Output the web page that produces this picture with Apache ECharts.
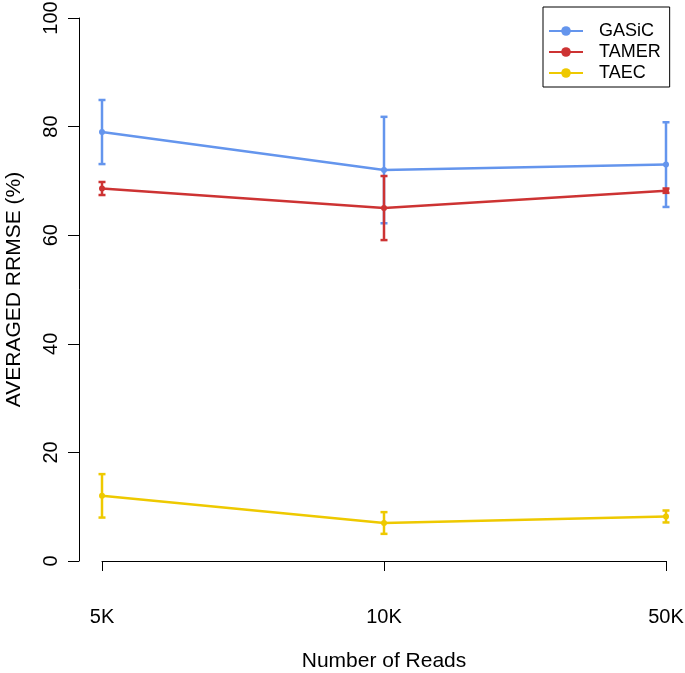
<!DOCTYPE html>
<html>
<head>
<meta charset="utf-8">
<script src="https://cdn.jsdelivr.net/npm/echarts@6/dist/echarts.min.js"></script>
<style>html,body{margin:0;padding:0;background:#fff}#c{width:685px;height:673px}</style>
</head>
<body>
<div id="c"></div>
<script>
var categories = ['5K', '10K', '50K'];
var gasicMean = [79.0, 72.0, 73.0];
var gasicErr = [5.9, 9.8, 7.8];
var tamerMean = [68.6, 65.0, 68.2];
var tamerErr = [1.2, 5.9, 0.4];
var taecMean = [12.0, 7.0, 8.2];
var taecErr = [4.0, 2.0, 1.1];
var yTicks = [0, 20, 40, 60, 80, 100];

var FONT = 'Liberation Sans, Arial, sans-serif';
var colors = {GASiC: '#6495ED', TAMER: '#CD3333', TAEC: '#EEC900'};

function errData(mean, err) {
  return mean.map(function (m, i) { return [i, m - err[i], m + err[i]]; });
}
function errSeries(name, mean, err, z) {
  var col = colors[name];
  return {
    type: 'custom',
    name: name + ' err',
    z: z,
    silent: true,
    data: errData(mean, err),
    renderItem: function (params, api) {
      var x = api.value(0);
      var lo = api.coord([x, api.value(1)]);
      var hi = api.coord([x, api.value(2)]);
      var hw = 3.5;
      var st = {stroke: col, lineWidth: 2.5};
      return {
        type: 'group',
        children: [
          {type: 'line', shape: {x1: lo[0], y1: lo[1], x2: hi[0], y2: hi[1]}, style: st},
          {type: 'line', shape: {x1: lo[0] - hw, y1: lo[1], x2: lo[0] + hw, y2: lo[1]}, style: st},
          {type: 'line', shape: {x1: hi[0] - hw, y1: hi[1], x2: hi[0] + hw, y2: hi[1]}, style: st}
        ]
      };
    }
  };
}
function lineSeries(name, mean, z) {
  return {
    type: 'line',
    name: name,
    z: z,
    data: mean,
    symbol: 'circle',
    symbolSize: 6,
    color: colors[name],
    lineStyle: {width: 2.5, color: colors[name]},
    itemStyle: {color: colors[name]}
  };
}

var chart = echarts.init(document.getElementById('c'));
chart.setOption({
  animation: false,
  backgroundColor: '#fff',
  grid: {left: 102, right: 19, top: 18, bottom: 112, containLabel: false, outerBoundsMode: 'none'},
  legend: {
    data: ['GASiC', 'TAMER', 'TAEC'],
    orient: 'vertical',
    left: 543,
    top: 7,
    padding: [15, 9, 5, 5],
    itemWidth: 34,
    itemHeight: 12,
    itemGap: 3,
    borderColor: '#000',
    borderWidth: 1,
    textStyle: {fontFamily: FONT, fontSize: 18, color: '#000', padding: [0, 0, 0, 11]}
  },
  xAxis: {
    type: 'category',
    data: categories,
    boundaryGap: false,
    offset: 22,
    axisLine: {lineStyle: {color: '#000', width: 1}},
    axisTick: {length: 10, lineStyle: {color: '#000'}, alignWithLabel: true},
    axisLabel: {fontFamily: FONT, fontSize: 20, color: '#000', margin: 24},
    splitLine: {show: false},
    name: 'Number of Reads',
    nameLocation: 'middle',
    nameGap: 68,
    nameTextStyle: {fontFamily: FONT, fontSize: 21, color: '#000'}
  },
  yAxis: {
    type: 'value',
    min: 0,
    max: 100,
    interval: 20,
    offset: 23,
    axisLine: {show: true, lineStyle: {color: '#000', width: 1}},
    axisTick: {show: true, length: 11, lineStyle: {color: '#000'}},
    axisLabel: {fontFamily: FONT, fontSize: 20, color: '#000', margin: 18, rotate: 90,
      formatter: function (v) { return yTicks.indexOf(v) >= 0 ? String(v) : ''; }},
    splitLine: {show: false},
    name: 'AVERAGED RRMSE (%)',
    nameLocation: 'middle',
    nameGap: 54,
    nameTextStyle: {fontFamily: FONT, fontSize: 21, color: '#000'}
  },
  series: [
    lineSeries('GASiC', gasicMean, 2),
    errSeries('GASiC', gasicMean, gasicErr, 3),
    lineSeries('TAMER', tamerMean, 4),
    errSeries('TAMER', tamerMean, tamerErr, 5),
    lineSeries('TAEC', taecMean, 6),
    errSeries('TAEC', taecMean, taecErr, 7)
  ]
});
</script>
</body>
</html>
